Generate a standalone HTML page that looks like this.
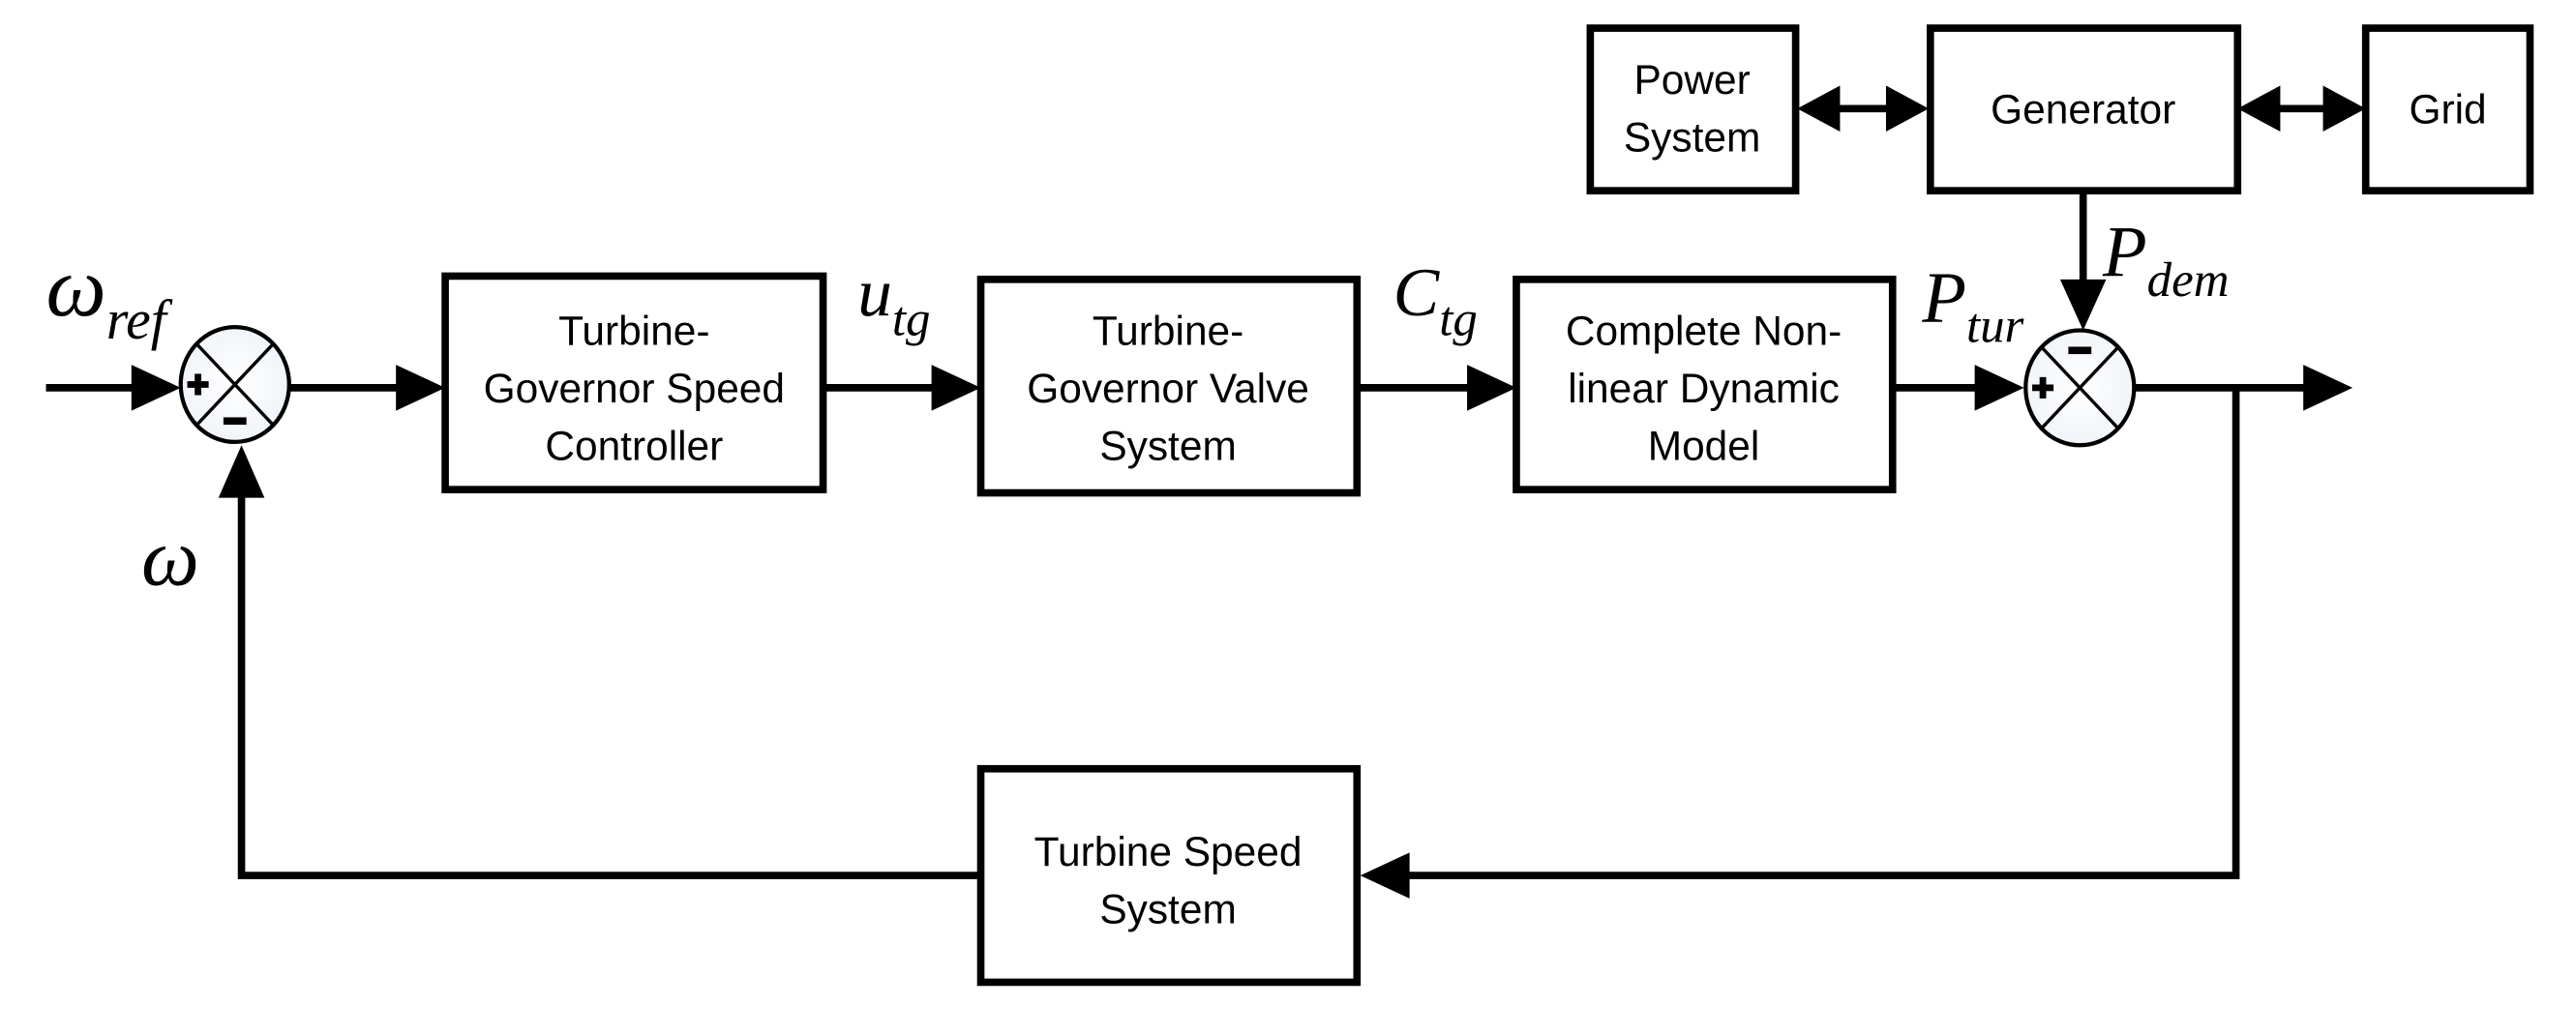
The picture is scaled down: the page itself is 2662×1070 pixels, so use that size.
<!DOCTYPE html>
<html><head><meta charset="utf-8"><style>
html,body{margin:0;padding:0;background:#fff;}
svg{display:block;}
.b{fill:#fff;stroke:#000;stroke-width:4.5;}
.l{stroke:#000;stroke-width:4.5;fill:none;}
.t{font-family:"Liberation Sans",sans-serif;font-size:25px;text-anchor:middle;fill:#000;}
.m{font-family:"Liberation Serif",serif;font-style:italic;fill:#000;}
</style></head><body>
<svg width="2662" height="1070" viewBox="0 0 1568 630" xmlns="http://www.w3.org/2000/svg">
<defs>
<radialGradient id="g" cx="0.5" cy="0.5" r="0.6"><stop offset="0" stop-color="#fff"/><stop offset="1" stop-color="#eef2f8"/></radialGradient>
</defs>
<rect class="b" x="968" y="17" width="125" height="99"/>
<text class="t" x="1030" y="57">Power</text>
<text class="t" x="1030" y="92">System</text>
<rect class="b" x="1175" y="17" width="187" height="99"/>
<text class="t" x="1268" y="75">Generator</text>
<rect class="b" x="1440" y="17" width="100" height="99"/>
<text class="t" x="1490" y="75">Grid</text>
<line class="l" x1="1115" y1="66" x2="1150" y2="66"/>
<polygon points="1094,66 1120,52 1120,80"/>
<polygon points="1174,66 1148,52 1148,80"/>
<line class="l" x1="1383" y1="66" x2="1418" y2="66"/>
<polygon points="1362,66 1388,52 1388,80"/>
<polygon points="1440,66 1414,52 1414,80"/>
<rect class="b" x="271" y="168" width="230" height="130"/>
<text class="t" x="386" y="210">Turbine-</text>
<text class="t" x="386" y="245">Governor Speed</text>
<text class="t" x="386" y="280">Controller</text>
<rect class="b" x="597" y="170" width="229" height="130"/>
<text class="t" x="711" y="210">Turbine-</text>
<text class="t" x="711" y="245">Governor Valve</text>
<text class="t" x="711" y="280">System</text>
<rect class="b" x="923" y="170" width="229" height="128"/>
<text class="t" x="1037" y="210">Complete Non-</text>
<text class="t" x="1037" y="245">linear Dynamic</text>
<text class="t" x="1037" y="280">Model</text>
<rect class="b" x="597" y="468" width="229" height="130"/>
<text class="t" x="711" y="527">Turbine Speed</text>
<text class="t" x="711" y="562">System</text>
<line class="l" x1="28" y1="236" x2="90" y2="236"/>
<polygon points="110,236 80,222 80,250"/>
<line class="l" x1="176" y1="236" x2="245" y2="236"/>
<polygon points="271,236 241,222 241,250"/>
<line class="l" x1="501" y1="236" x2="570" y2="236"/>
<polygon points="597,236 567,222 567,250"/>
<line class="l" x1="826" y1="236" x2="895" y2="236"/>
<polygon points="923,236 893,222 893,250"/>
<line class="l" x1="1152" y1="236" x2="1205" y2="236"/>
<polygon points="1232,236 1202,222 1202,250"/>
<line class="l" x1="1300" y1="236" x2="1405" y2="236"/>
<polygon points="1432,236 1402,222 1402,250"/>
<line class="l" x1="1268" y1="116" x2="1268" y2="175"/>
<polygon points="1268,201 1254,170 1282,170"/>
<polyline class="l" points="1361,236 1361,533 855,533"/>
<polygon points="828,533 858,519 858,547"/>
<polyline class="l" points="597,533 147,533 147,300"/>
<polygon points="147,271 133,303 161,303"/>
<g>
<ellipse cx="143" cy="234" rx="33" ry="35" fill="url(#g)" stroke="#000" stroke-width="2.5"/>
<line x1="119.7" y1="209.3" x2="166.3" y2="258.7" stroke="#000" stroke-width="2"/>
<line x1="166.3" y1="209.3" x2="119.7" y2="258.7" stroke="#000" stroke-width="2"/>
<rect x="114" y="232" width="13" height="4"/><rect x="118.5" y="227.5" width="4" height="13"/>
<rect x="136" y="254" width="14" height="4.5"/>
</g>
<g>
<ellipse cx="1266" cy="236" rx="33" ry="35" fill="url(#g)" stroke="#000" stroke-width="2.5"/>
<line x1="1242.7" y1="211.3" x2="1289.3" y2="260.7" stroke="#000" stroke-width="2"/>
<line x1="1289.3" y1="211.3" x2="1242.7" y2="260.7" stroke="#000" stroke-width="2"/>
<rect x="1237" y="234" width="13" height="4"/><rect x="1241.5" y="229.5" width="4" height="13"/>
<rect x="1259" y="211" width="14" height="4.5"/>
</g>
<text class="m" x="28" y="192" font-size="52">ω<tspan font-size="34" dy="14">ref</tspan></text>
<text class="m" x="86" y="356" font-size="50">ω</text>
<text class="m" x="522" y="192" font-size="42">u<tspan font-size="30" dy="12">tg</tspan></text>
<text class="m" x="848" y="192" font-size="42">C<tspan font-size="30" dy="12">tg</tspan></text>
<text class="m" x="1170" y="196" font-size="44">P<tspan font-size="30" dy="12">tur</tspan></text>
<text class="m" x="1280" y="168" font-size="44">P<tspan font-size="30" dy="12">dem</tspan></text>
</svg>
</body></html>
